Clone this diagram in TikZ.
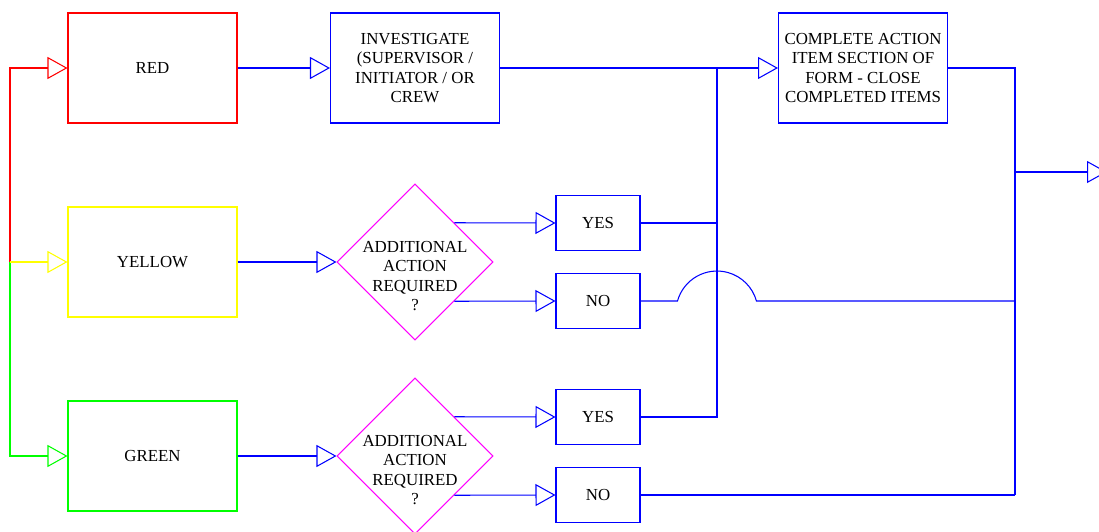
\documentclass[tikz,border=0pt]{standalone}
\usepackage{fontspec}
\setmainfont{Liberation Serif}
\usetikzlibrary{positioning,arrows.meta,shapes.geometric}
\definecolor{flowred}{HTML}{FF0000}
\definecolor{flowyellow}{HTML}{FFFF00}
\definecolor{flowgreen}{HTML}{00FF00}
\definecolor{flowblue}{HTML}{0000FF}
\definecolor{flowpink}{HTML}{FF00FF}

\begin{document}
\begin{tikzpicture}[
  x=0.02cm, y=0.02cm,
  line width=0.6pt,
  boxtext/.style={font=\fontsize{9.6}{11}\selectfont, align=center},
  bigbox/.style={boxtext, draw, minimum width=3.38cm, minimum height=2.2cm, inner sep=0pt},
  smallbox/.style={boxtext, draw=flowblue, minimum width=1.68cm, minimum height=1.1cm, inner sep=0pt},
  decision/.style={diamond, draw=flowpink, aspect=1, minimum size=3.12cm, inner sep=0pt},
  flowtip/.style={-{Triangle[open, length=0.4cm, width=0.44cm]}},
]
% pixel grid of the sheet: x to the right, y downwards (negative)
\useasboundingbox (0,0) rectangle (1099,-531);

% --- colour boxes on the left, fed from one bus at x=10
\foreach \name/\col/\yy/\lbl in {redbox/flowred/68/RED, yellowbox/flowyellow/262/YELLOW, greenbox/flowgreen/456/GREEN} {
  \node[bigbox, draw=\col] (\name) at (152.5,-\yy) {\lbl};
}
\coordinate (bus) at (10,-262);
\draw[flowred, flowtip] (bus) |- (redbox.west);
\draw[flowgreen, flowtip] (bus) |- (greenbox.west);
\draw[flowyellow, flowtip] (bus) -- (yellowbox.west);

% --- top row
\node[bigbox, draw=flowblue] (investigate) at (415,-68) {INVESTIGATE\\(SUPERVISOR /\\INITIATOR / OR\\CREW};
\node[bigbox, draw=flowblue] (complete) at (863,-68) {COMPLETE ACTION\\ITEM SECTION OF\\FORM - CLOSE\\COMPLETED ITEMS};
\draw[flowblue, flowtip] (redbox.east) -- (investigate.west);
\draw[flowblue, flowtip] (investigate.east) -- (complete.west);

% --- decisions for yellow and green
\foreach \i/\src/\yy in {1/yellowbox/262, 2/greenbox/456} {
  \node[decision] (dia\i) at (415,-\yy) {};
  \node[boxtext] (ask\i) at ([yshift=-0.28cm]dia\i.center) {ADDITIONAL\\ACTION\\REQUIRED\\?};
  \node[smallbox] (yes\i) at (598,{-\yy+39}) {YES};
  \node[smallbox] (no\i) at (598,{-\yy-39}) {NO};
  \draw[flowblue, flowtip] (\src.east) -- (dia\i.west);
  \draw[flowblue, flowtip] (dia\i.north east) -- (yes\i.west);
  \draw[flowblue, flowtip] (dia\i.south east) -- (no\i.west);
}

% --- YES lines join the top row at x=717
\coordinate (jointop) at (717,-68);
\draw[flowblue] (yes2.east) -| (jointop);
\draw[flowblue] (yes1.east) -- (yes1.east -| jointop);

% --- right bus at x=1015 and the way out
\coordinate (outbottom) at (1015,-495);
\coordinate (outmid) at (1015,-172);
\coordinate (exit) at (1107,-172);
\draw[flowblue] (complete.east) -| (outbottom);
\draw[flowblue] (no2.east) -- (outbottom);
\coordinate (jumpleft) at (677.5,-301);
\draw[flowblue] (no1.east) -- (jumpleft) arc[start angle=164.4, end angle=15.6, radius=0.82cm] -- (no1.east -| outbottom);
\draw[flowblue, flowtip] (outmid) -- (exit);
\end{tikzpicture}
\end{document}
